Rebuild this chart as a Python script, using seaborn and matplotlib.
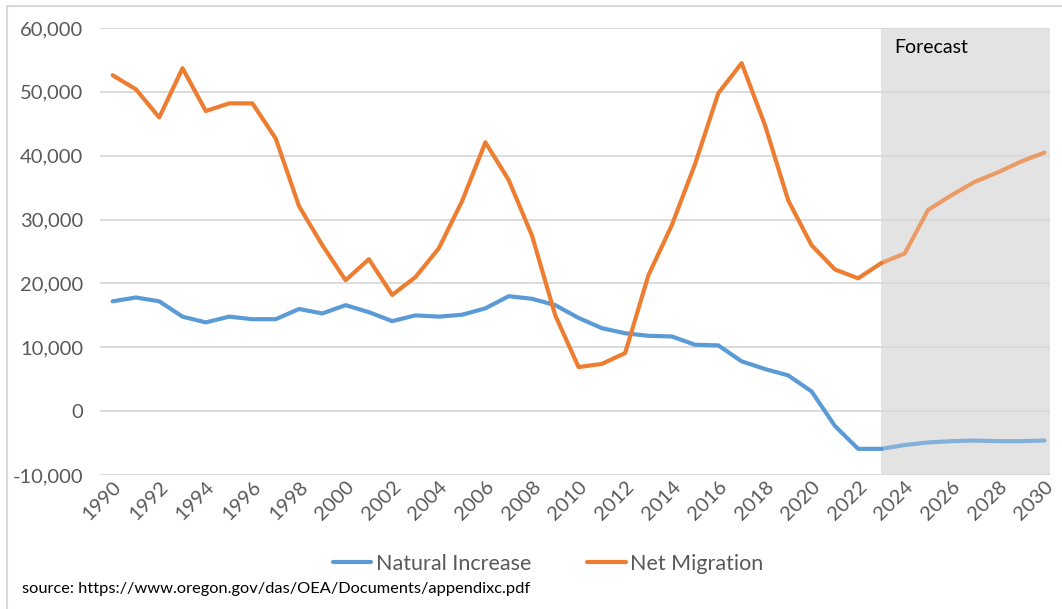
import matplotlib
matplotlib.use("Agg")
import matplotlib.pyplot as plt
import matplotlib.ticker as mticker
import pandas as pd
import seaborn as sns

years = list(range(1990, 2031))
natural_increase = [17200, 17800, 17200, 14800, 13900, 14800, 14400, 14400, 16000, 15300,
                    16600, 15500, 14100, 15000, 14800, 15100, 16100, 18000, 17600, 16600,
                    14600, 13000, 12200, 11800, 11700, 10400, 10300, 7800, 6600, 5600,
                    3100, -2300, -5900, -5900, -5300, -4900, -4700, -4600, -4700, -4700,
                    -4600]
net_migration = [52600, 50400, 46000, 53700, 47000, 48200, 48200, 42700, 32100, 26000,
                 20500, 23800, 18200, 21000, 25500, 32900, 42100, 36200, 27500, 15000,
                 6900, 7400, 9100, 21300, 29100, 38700, 49800, 54500, 44800, 33000,
                 26000, 22200, 20800, 23200, 24700, 31500, 33800, 35900, 37400, 39100,
                 40500]
forecast_start = 2023

df = pd.DataFrame({
    'Year': years * 2,
    'Value': natural_increase + net_migration,
    'Series': ['Natural Increase'] * len(years) + ['Net Migration'] * len(years),
})
actual = df[df['Year'] <= forecast_start]
forecast = df[df['Year'] >= forecast_start]

palette = {'Natural Increase': '#5B9BD5', 'Net Migration': '#ED7D31'}
grey = '#595959'

sns.set_style('white')
plt.rcParams['font.family'] = ['Lato', 'DejaVu Sans']

fig = plt.figure(figsize=(10.62, 6.09), dpi=100)
ax = fig.add_axes([0.094, 0.22, 0.895, 0.734])

ax.axvspan(forecast_start, 2031, color='#E3E3E3', zorder=0, lw=0)

sns.lineplot(data=actual, x='Year', y='Value', hue='Series', palette=palette,
             linewidth=3, ax=ax, zorder=3)
sns.lineplot(data=forecast, x='Year', y='Value', hue='Series', palette=palette,
             linewidth=3, alpha=0.7, ax=ax, legend=False, zorder=3)

ax.set_xlim(1989.45, 2030.25)
ax.set_ylim(-10000, 60000)
ax.set_yticks(range(-10000, 60001, 10000))
ax.yaxis.set_major_formatter(mticker.FuncFormatter(lambda v, p: f'{int(v):,}'))
ax.set_xticks(range(1990, 2031, 2))
ax.grid(axis='y', color='#D9D9D9', linewidth=1.3)
ax.set_axisbelow(True)
for s in ax.spines.values():
    s.set_visible(False)
ax.tick_params(axis='y', labelsize=14.5, colors=grey, length=0, pad=12)
ax.tick_params(axis='x', labelsize=14.5, colors=grey, length=0, pad=2)
plt.setp(ax.get_xticklabels(), rotation=45, ha='right', rotation_mode='anchor')
ax.set_xlabel('')
ax.set_ylabel('')

ax.text(2023.55, 57000, 'Forecast', fontsize=14, color='black', va='center')

handles, labels = ax.get_legend_handles_labels()
fig.legend(handles, labels, loc='center', bbox_to_anchor=(0.516, 0.074),
           ncol=2, frameon=False, fontsize=15.5, labelcolor=grey,
           handlelength=1.8, handletextpad=0.2, columnspacing=2.6)
ax.get_legend().remove() if ax.get_legend() else None

fig.text(0.021, 0.021, 'source: https://www.oregon.gov/das/OEA/Documents/appendixc.pdf',
         fontsize=11.8, color='black', va='bottom')

fig.patches.append(plt.Rectangle((0.007, -0.01), 1.5, 1.0, transform=fig.transFigure,
                                 fill=False, edgecolor='#D9D9D9', linewidth=1.5))

fig.savefig('out.png', dpi=100)
